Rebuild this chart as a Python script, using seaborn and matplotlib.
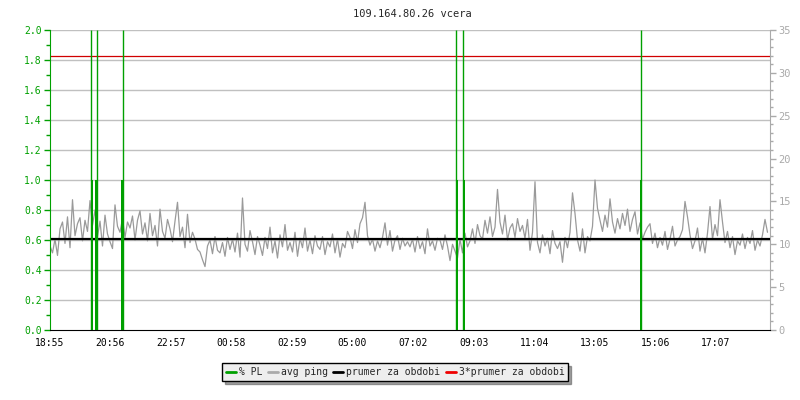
import numpy as np
import pandas as pd
import seaborn as sns
import matplotlib.pyplot as plt
from matplotlib.lines import Line2D

# time axis: minutes since 18:55, one ping sample every 5 minutes
tick_labels = ["18:55", "20:56", "22:57", "00:58", "02:59", "05:00",
               "07:02", "09:03", "11:04", "13:05", "15:06", "17:07"]
tick_minutes = [0, 121, 242, 363, 484, 605, 727, 848, 969, 1090, 1211, 1332]

# avg ping (ms), read hour by hour from the picture
ping_ms = [
    9.8, 9.0, 10.6, 8.7, 11.8, 12.6, 10.1, 13.2, 9.6, 15.2, 11.0, 12.4,
    13.1, 10.4, 12.8, 11.5, 15.1, 12.2, 14.0, 10.9, 12.7, 9.8, 13.4, 11.2,
    10.3, 9.5, 14.6, 12.1, 11.4, 13.0, 10.8, 12.6, 11.9, 13.3, 10.5, 12.8,
    13.9, 11.2, 12.5, 10.4, 13.6, 11.0, 12.2, 9.8, 14.1, 11.5, 10.7, 12.9,
    11.8, 10.3, 12.7, 14.9, 10.9, 12.0, 9.6, 13.5, 10.2, 11.4, 10.6, 9.4,
    9.1, 8.2, 7.4, 9.8, 10.5, 8.9, 10.9, 9.3, 9.0, 10.2, 8.6, 10.8,
    9.4, 10.6, 9.1, 11.3, 8.5, 15.4, 10.0, 9.2, 11.6, 10.3, 8.8, 10.9,
    9.9, 8.7, 10.8, 9.5, 12.0, 9.0, 10.4, 8.4, 11.1, 9.7, 12.3, 9.3,
    10.2, 9.1, 11.4, 8.6, 10.7, 9.6, 11.9, 9.2, 10.5, 8.9, 11.0, 9.8,
    9.4, 10.9, 8.8, 10.3, 9.7, 11.2, 9.0, 10.6, 8.5, 10.1, 9.6, 11.5,
    10.8, 9.5, 11.7, 10.2, 12.4, 13.1, 14.9, 11.0, 9.9, 10.6, 9.2, 10.4,
    9.6, 10.8, 12.5, 9.9, 11.6, 9.2, 10.5, 11.0, 9.4, 10.7, 9.8, 10.3,
    9.7, 10.6, 9.1, 10.9, 9.5, 10.3, 8.9, 11.8, 9.8, 10.4, 9.3, 10.7,
    10.5, 9.4, 11.1, 9.8, 8.1, 10.0, 9.2, 8.4, 10.6, 9.0, 11.3, 9.7,
    10.4, 11.8, 10.1, 12.3, 11.0, 10.6, 12.8, 11.3, 13.2, 10.9, 12.0, 16.4,
    12.6, 11.2, 13.4, 10.5, 11.9, 12.4, 10.8, 13.0, 11.5, 12.2, 10.7, 12.9,
    9.3, 11.4, 17.3, 10.2, 9.0, 11.1, 9.8, 10.7, 8.9, 11.6, 10.1, 9.5,
    10.3, 7.9, 10.8, 9.6, 11.4, 16.0, 13.6, 10.5, 9.2, 11.8, 9.0, 10.9,
    10.4, 12.1, 17.5, 14.2, 12.8, 11.5, 13.4, 12.0, 15.3, 12.6, 11.3, 13.0,
    11.8, 13.6, 12.2, 14.1, 11.5, 12.9, 13.8, 11.2, 12.5, 10.6, 11.4, 12.0,
    12.4, 10.1, 11.3, 9.6, 10.8, 9.9, 11.5, 9.4, 10.6, 12.1, 9.8, 10.5,
    10.9, 11.7, 15.0, 13.2, 11.1, 9.5, 10.4, 11.9, 9.2, 10.7, 9.0, 11.3,
    14.4, 10.6, 12.3, 11.0, 15.2, 12.6, 10.2, 11.5, 9.6, 10.9, 8.8, 10.4,
    9.9, 11.2, 9.5, 10.8, 10.1, 11.6, 9.3, 10.5, 9.8, 11.1, 12.9, 11.4,
]
ping_minutes = [5 * i for i in range(len(ping_ms))]

# packet loss (%) events: off-scale spike plus a 1 % sample next to it
pl_spike_minutes = [81, 93, 145, 811, 825, 1181]
pl_spike_values = [2.0, 2.0, 2.0, 2.0, 2.0, 2.0]
pl_bar_minutes = [83, 91, 143, 813, 827, 1182]
pl_bar_values = [1.0, 1.0, 1.0, 1.0, 1.0, 1.0]

avg_ping = 10.67
ms_per_pl = 17.5   # right axis 0..35 against left axis 0..2

green = "#00a000"
gray_line = "#9a9a9a"
grid_c = "#c0c0c0"

sns.set_style("white")
plt.rcParams['font.family'] = ['DejaVu Sans Mono']

fig = plt.figure(figsize=(8, 4), dpi=100)
ax = fig.add_axes([0.0625, 0.175, 0.9, 0.75])
ax2 = ax.twinx()

for y in np.arange(0.2, 2.01, 0.2):
    ax2.axhline(y * ms_per_pl, color=grid_c, lw=1, zorder=1)

ping_df = pd.DataFrame({"t": ping_minutes, "ping": ping_ms})
sns.lineplot(data=ping_df, x="t", y="ping", ax=ax2, color=gray_line,
             lw=0.9, zorder=2)
ax2.axhline(avg_ping, color="black", lw=1.6, zorder=3)
ax2.axhline(3 * avg_ping, color="#d00000", lw=0.9, zorder=3)

ax.vlines(pl_spike_minutes, 0, pl_spike_values, color=green, lw=1, zorder=4)
ax.bar(pl_bar_minutes, pl_bar_values, width=4, color=green, linewidth=0,
       zorder=4)

ax.set_xlim(0, 1440)
ax.set_ylim(0, 2.0)
ax2.set_ylim(0, 35)

ax.set_zorder(ax2.get_zorder() + 1)
ax.patch.set_visible(False)

ax.set_yticks(np.arange(0, 2.01, 0.2))
ax.set_yticklabels([f"{v:.1f}" for v in np.arange(0, 2.01, 0.2)])
ax.set_yticks(np.arange(0.1, 2.0, 0.2), minor=True)
ax2.set_yticks(range(0, 36, 5))
ax2.set_yticks(range(0, 36, 1), minor=True)
ax.set_xticks(tick_minutes)
ax.set_xticklabels(tick_labels)

ax.tick_params(axis="y", which="both", colors=green, labelsize=7,
               direction="out", length=4, width=1, pad=2)
ax.tick_params(axis="y", which="minor", length=3)
ax2.tick_params(axis="y", which="both", colors="#aaaaaa", labelsize=7.5,
                direction="out", length=4, width=1, pad=2)
ax2.tick_params(axis="y", which="minor", length=2)
ax.tick_params(axis="x", colors="black", labelsize=7, direction="out",
               length=4, width=1, pad=2)
ax2.set_xlabel("")
ax2.set_ylabel("")
ax.set_xlabel("")
ax.set_ylabel("")

for a in (ax, ax2):
    a.spines["top"].set_visible(False)
ax.spines["left"].set_color(green)
ax.spines["right"].set_visible(False)
ax.spines["bottom"].set_color("black")
ax2.spines["left"].set_visible(False)
ax2.spines["bottom"].set_visible(False)
ax2.spines["right"].set_color("#aaaaaa")

fig.text(0.515, 0.965, "109.164.80.26 vcera", ha="center", va="center",
         fontsize=7.5)

handles = [Line2D([], [], color=green, lw=2),
           Line2D([], [], color="#aaaaaa", lw=2),
           Line2D([], [], color="black", lw=2),
           Line2D([], [], color="#ee0000", lw=2)]
names = ["% PL", "avg ping", "prumer za obdobi", "3*prumer za obdobi"]
leg = fig.legend(handles, names, loc="center", bbox_to_anchor=(0.494, 0.07),
                 ncol=4, fontsize=7, frameon=True, fancybox=False, shadow=True,
                 handlelength=1.0, handletextpad=0.3, columnspacing=0.6,
                 borderpad=0.4)
leg.get_frame().set_facecolor("#eeeeee")
leg.get_frame().set_edgecolor("black")
leg.get_frame().set_alpha(1)

fig.savefig("out.png", dpi=100)
